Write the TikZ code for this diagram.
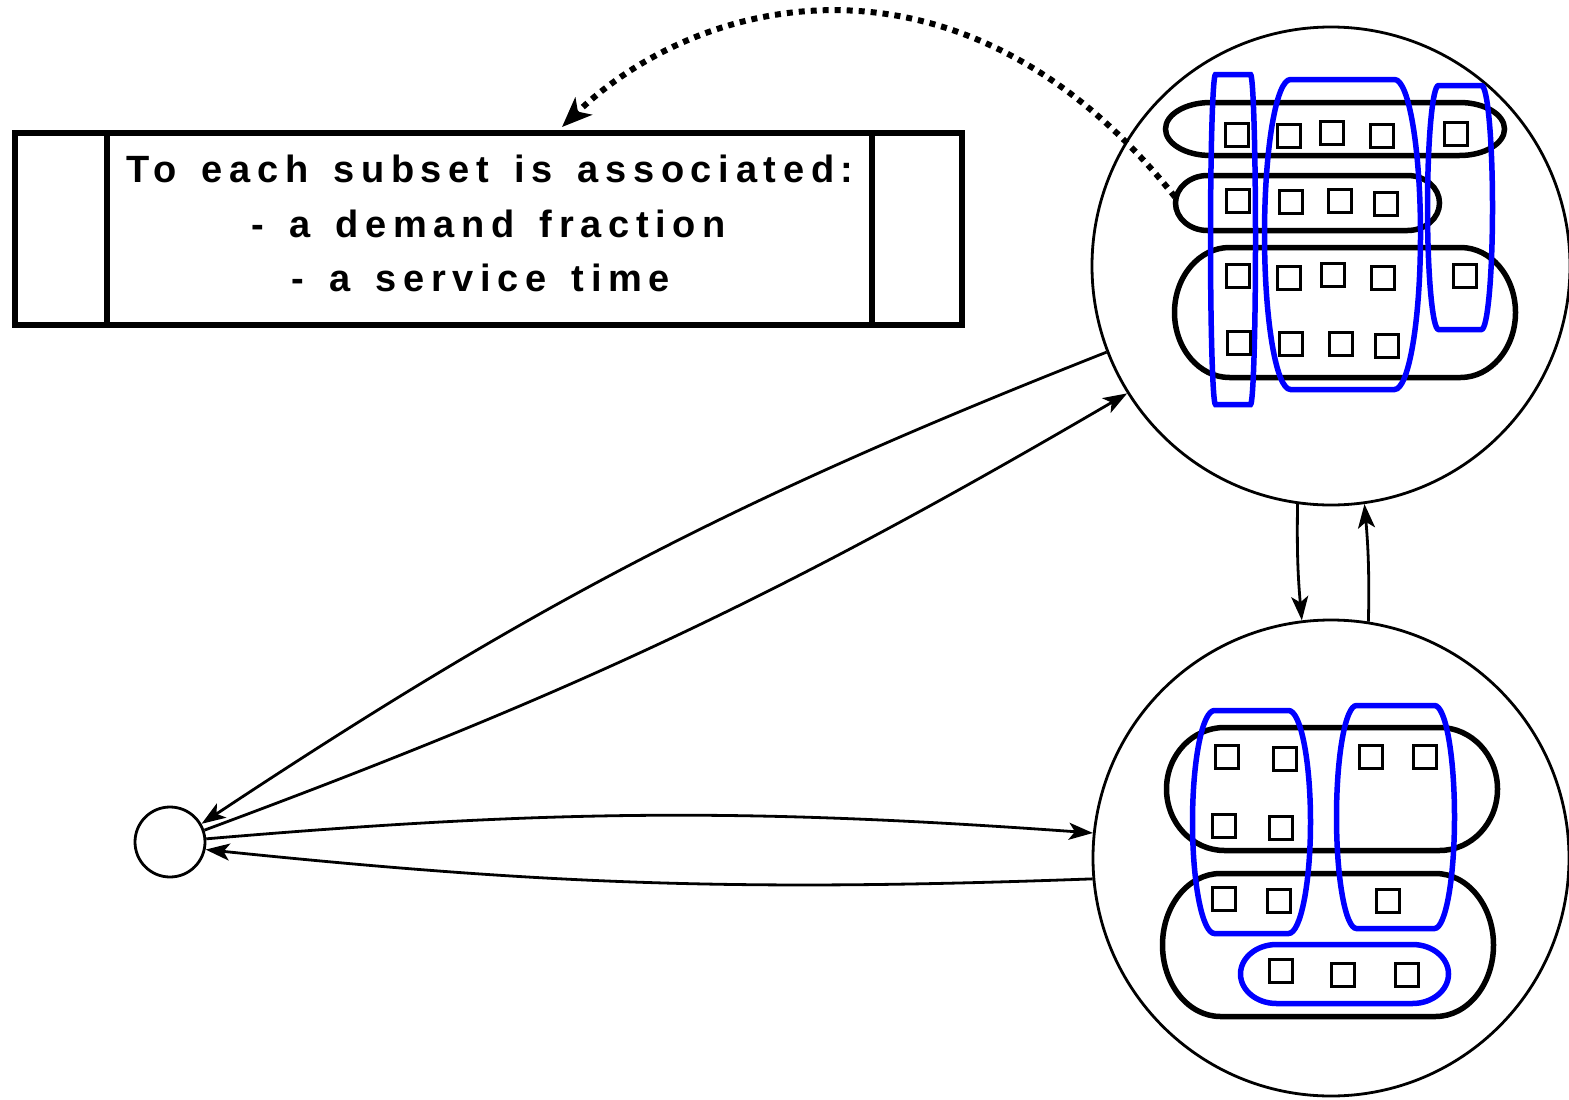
\documentclass[tikz,border=0pt]{standalone}
\usepackage{fontspec}
\setmainfont{Liberation Sans}
\newfontfamily\boxfont[LetterSpace=17.6,WordSpace=1.45]{Liberation Sans}
\usetikzlibrary{arrows.meta}
\definecolor{myblue}{RGB}{0,0,255}
\newcommand\mypill[6]{%
  \pgfmathsetmacro\pb{(#5-#3)/2}%
  \draw[#1] ({#2+#6},{-#3}) -- ({#4-#6},{-#3})
    arc[start angle=90,end angle=-90,x radius=#6pt,y radius=\pb pt]
    -- ({#2+#6},{-#5})
    arc[start angle=270,end angle=90,x radius=#6pt,y radius=\pb pt] -- cycle;}
\newcommand\mysq[2]{\draw[cellst] ({#1-11.25},{-#2+11.25}) rectangle ({#1+11.25},{-#2-11.25});}
\tikzset{
  bigcirc/.style={draw, circle, line width=2.8pt, inner sep=0pt, minimum size=478pt},
  blackset/.style={draw=black, line width=5.5pt},
  blueset/.style={draw=myblue, line width=5.5pt},
  cellst/.style={draw=black, line width=2.8pt},
  arr/.style={line width=2.8pt, -{Stealth[length=24pt,width=17pt,inset=6pt]}},
  dotarr/.style={line width=6pt, dash pattern=on 6pt off 6pt, -{Stealth[length=30pt,width=24pt,inset=8pt]}},
  txt/.style={anchor=base, inner sep=0pt, font=\boxfont\bfseries\fontsize{38}{42}\selectfont},
}
\begin{document}
\begin{tikzpicture}[x=1pt,y=1pt]
\useasboundingbox (0,0) rectangle (1569,-1100);
% text box
\node[draw, line width=6pt, minimum width=947pt, minimum height=192pt, inner sep=0pt] (box) at (488.5,-229) {};
\draw[line width=6pt] ([xshift=95pt]box.north west) -- ([xshift=95pt]box.south west);
\draw[line width=6pt] ([xshift=-93pt]box.north east) -- ([xshift=-93pt]box.south east);
\node[txt] (t1) at (490,-182) {To each subset is associated:};
\node[txt] (t2) at (489,-237) {- a demand fraction};
\node[txt] (t3) at (481,-291) {- a service time};
% circles
\node[bigcirc] (top) at (1331,-266) {};
\node[bigcirc, minimum size=476pt] (bot) at (1331,-858) {};
\node[draw, circle, line width=2.8pt, inner sep=0pt, minimum size=70pt] (src) at (170,-842) {};
% top circle contents
\mypill{blackset}{1165.5}{102.5}{1504.5}{155.5}{45}
\mypill{blackset}{1175.5}{175.5}{1439.5}{230.5}{32}
\mypill{blackset}{1174.5}{247.5}{1515.5}{377.5}{55}
\mypill{blueset}{1210.5}{74.5}{1255.5}{404.5}{5}
\mypill{blueset}{1264.5}{79.5}{1420.5}{389.5}{26}
\mypill{blueset}{1427.5}{85.5}{1492.5}{329.5}{11}
\mysq{1237}{135}\mysq{1289}{136}\mysq{1332}{133}\mysq{1382}{136}\mysq{1456}{134}
\mysq{1238}{201}\mysq{1291}{202}\mysq{1340}{201}\mysq{1386}{204}
\mysq{1238}{276}\mysq{1289}{278}\mysq{1333}{275}\mysq{1383}{278}\mysq{1465}{276}
\mysq{1239}{343}\mysq{1291}{344}\mysq{1341}{344}\mysq{1387}{346}
% bottom circle contents
\mypill{blackset}{1166.5}{727.5}{1497.5}{850.5}{58}
\mypill{blackset}{1162.5}{873.5}{1493.5}{1016.5}{58}
\mypill{blueset}{1192.5}{710.5}{1310.5}{933.5}{22}
\mypill{blueset}{1336.5}{705.5}{1454.5}{928.5}{20}
\mypill{blueset}{1240.5}{944.5}{1448.5}{1003.5}{36}
\mysq{1227}{757}\mysq{1285}{759}\mysq{1371}{757}\mysq{1425}{757}
\mysq{1224}{826}\mysq{1281}{828}
\mysq{1224}{899}\mysq{1279}{901}\mysq{1388}{901}
\mysq{1281}{971}\mysq{1343}{975}\mysq{1407}{975}
% connectors
\draw[arr] (top.201) to[bend right=6] (src.30);
\draw[arr] (src.19) to[bend right=5] (top.212);
\draw[arr] (src.5) to[bend left=4.5] (bot.174);
\draw[arr] (bot.185) to[bend left=4] (src.-12);
\draw[arr] (top.262.6) to[bend right=3] (bot.97.7);
\draw[arr] (bot.81.6) to[bend right=3] (top.278.5);
% dotted arrow
\coordinate (dstart) at (1175,-197);
\coordinate (dend) at (562,-127);
\draw[dotarr] (dstart) .. controls (964,68) and (702,8) .. (dend);
\end{tikzpicture}
\end{document}
